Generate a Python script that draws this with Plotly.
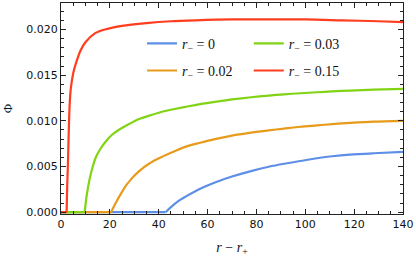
import plotly.graph_objects as go

# r- = 0 (blue)
x_b = [0, 42.8, 45, 48, 51, 55, 59, 63, 70, 77.8, 85, 91.3, 98, 104.8, 111, 118.3, 128, 140]
y_b = [0, 0, 0.00055, 0.0012, 0.0017, 0.0023, 0.0028, 0.00325, 0.0039, 0.0045, 0.00497, 0.0053, 0.0056, 0.0059, 0.00612, 0.0063, 0.00645, 0.0066]

# r- = 0.02 (orange)
x_o = [0, 20.5, 22.5, 24.5, 26.6, 29, 32, 36, 40.1, 45, 50.9, 57, 63, 70, 77.8, 85, 91.3, 98, 104.8, 111, 118.3, 128, 140]
y_o = [0, 0, 0.00105, 0.0020, 0.0029, 0.0037, 0.0045, 0.0053, 0.0059, 0.0065, 0.00715, 0.0076, 0.0080, 0.00838, 0.0087, 0.00895, 0.00915, 0.00935, 0.0095, 0.00964, 0.00977, 0.00991, 0.0100]

# r- = 0.03 (green)
x_g = [0, 9.7, 10.5, 11.7, 13, 14.4, 16.3, 18.5, 21, 23.9, 27.5, 32, 36.5, 41.4, 46.5, 52.2, 57.5, 63, 70, 77.8, 85, 91.3, 98, 104.8, 111, 118.3, 128, 140]
y_g = [0, 0, 0.0018, 0.0036, 0.0050, 0.0061, 0.0070, 0.0078, 0.0085, 0.00905, 0.0096, 0.0102, 0.0106, 0.0110, 0.0113, 0.0116, 0.01185, 0.01208, 0.01234, 0.01258, 0.01276, 0.0129, 0.01302, 0.01313, 0.01322, 0.01331, 0.01341, 0.0135]

# r- = 0.15 (red)
x_r = [0, 2.3, 2.5, 2.8, 3.1, 3.5, 4, 5, 6, 8, 10, 14, 18, 25, 35, 45, 55, 70, 85, 100, 115, 130, 140]
y_r = [0, 0, 0.0025, 0.0050, 0.0080, 0.0115, 0.0135, 0.0152, 0.0162, 0.0177, 0.0186, 0.0196, 0.0200, 0.0204, 0.0207, 0.0209, 0.0210, 0.0211, 0.0211, 0.0211, 0.0210, 0.0209, 0.0208]

names = ["<i>r</i><sub>−</sub> = 0", "<i>r</i><sub>−</sub> = 0.02",
         "<i>r</i><sub>−</sub> = 0.03", "<i>r</i><sub>−</sub> = 0.15"]
colors = ["#5E8FE6", "#E89B1A", "#80D414", "#FF3D1F"]

fig = go.Figure()
series = [(x_b, y_b, "legend"), (x_o, y_o, "legend"), (x_g, y_g, "legend2"), (x_r, y_r, "legend2")]
for i, (xs, ys, lg) in enumerate(series):
    # flat zero part drawn straight, rising part smoothed
    k = ys.index(0, 1)
    fig.add_trace(go.Scatter(x=xs[:k + 1], y=ys[:k + 1], mode="lines", showlegend=False,
                             legendgroup="g%d" % i, legend=lg,
                             line=dict(color=colors[i], width=2.2), hoverinfo="skip"))
    fig.add_trace(go.Scatter(x=xs[k:], y=ys[k:], mode="lines", name=names[i], legend=lg,
                             legendgroup="g%d" % i,
                             line=dict(color=colors[i], width=2.2, shape="spline", smoothing=0.8)))

legfont = dict(family="Liberation Serif", size=14, color="#111")
axis_common = dict(showline=True, linecolor="#222", linewidth=1, mirror="ticks",
                   ticks="inside", ticklen=5, tickcolor="#222", showgrid=False, zeroline=False,
                   ticklabeloverflow="allow",
                   tickfont=dict(family="DejaVu Sans", size=11, color="#111"))
fig.update_layout(
    width=416, height=257,
    margin=dict(l=61, r=9, t=2, b=42),
    plot_bgcolor="white", paper_bgcolor="white",
    legend=dict(x=0.237, y=0.883, xanchor="left", yanchor="top", font=legfont,
                bgcolor="rgba(0,0,0,0)", tracegroupgap=6),
    legend2=dict(x=0.549, y=0.883, xanchor="left", yanchor="top", font=legfont,
                 bgcolor="rgba(0,0,0,0)", tracegroupgap=6),
    xaxis=dict(range=[0, 140], tickvals=[0, 20, 40, 60, 80, 100, 120, 140],
               minor=dict(ticks="inside", dtick=5, ticklen=3, tickcolor="#222"),
               title=dict(text="<i>r</i> − <i>r</i><sub>+</sub>", standoff=14,
                          font=dict(family="Liberation Serif", size=14, color="#111")),
               **axis_common),
    yaxis=dict(range=[-0.0002, 0.0229], tickvals=[0, 0.005, 0.01, 0.015, 0.02],
               tickformat=".3f",
               minor=dict(ticks="inside", dtick=0.001, ticklen=3, tickcolor="#222"),
               title=dict(text="Φ", standoff=14,
                          font=dict(family="Liberation Serif", size=13, color="#111")),
               **axis_common),
)
fig.write_html("out.html", config={"displayModeBar": False},
               post_script="document.body.style.margin='0';")
